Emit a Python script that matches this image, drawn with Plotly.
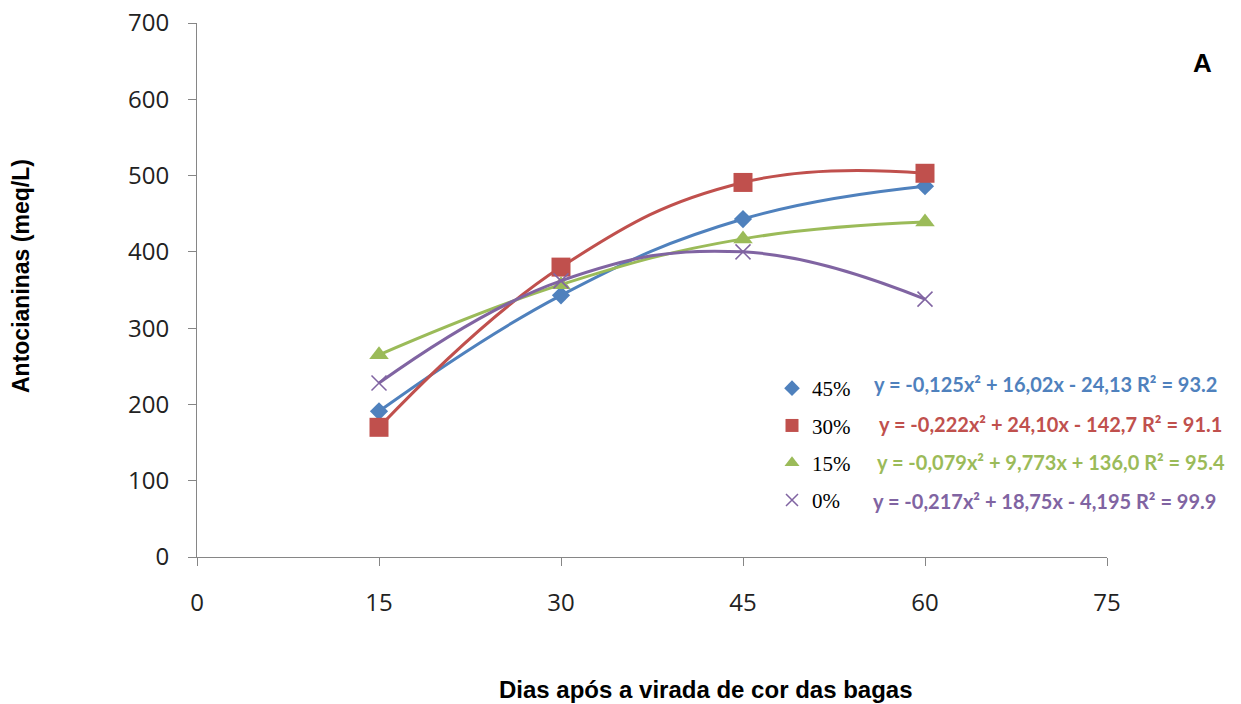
import plotly.graph_objects as go

# Days after veraison (x) and anthocyanin content (meq/L) per defoliation level
dias = [15, 30, 45, 60]
series_names = ["45%", "30%", "15%", "0%"]
antoc_45 = [191, 343, 443, 486]
antoc_30 = [170, 380, 491, 503]
antoc_15 = [265, 357, 417, 439]
antoc_0 = [228, 362, 400, 338]
equations = [
    "y = -0,125x² + 16,02x - 24,13 R² = 93.2",
    "y = -0,222x² + 24,10x - 142,7 R² = 91.1",
    "y = -0,079x² + 9,773x + 136,0 R² = 95.4",
    "y = -0,217x² + 18,75x - 4,195 R² = 99.9",
]
x_ticks = [0, 15, 30, 45, 60, 75]
y_ticks = [0, 100, 200, 300, 400, 500, 600, 700]

colors = ["#4F81BD", "#C0504D", "#9BBB59", "#8064A2"]
symbols = ["diamond", "square", "triangle-up", "x-thin"]
msizes = [14, 19, 17, 15]
legend_sizes = [12, 13, 13, 12]
values = [antoc_45, antoc_30, antoc_15, antoc_0]

fig = go.Figure()
for name, vals, col, sym, ms, ls in zip(series_names, values, colors, symbols, msizes, legend_sizes):
    marker = dict(symbol=sym, size=ms, color=col)
    if sym == "x-thin":
        marker["line"] = dict(color=col, width=1.5)
    # smoothed line through the measured points
    fig.add_trace(go.Scatter(
        x=dias, y=vals, mode="lines+markers", name=name,
        line=dict(color=col, width=3, shape="spline", smoothing=1.2),
        marker=marker, showlegend=False,
    ))
    # marker-only legend entry
    fig.add_trace(go.Scatter(
        x=[None], y=[None], mode="markers", name=name, legendgroup=name,
        marker=dict(marker, size=ls), showlegend=True,
    ))

L, R, T, B = 197, 134, 23, 147
W, H = 1241, 704
pw, ph = W - L - R, H - T - B

def px_x(p):
    return (p - L) / pw

def px_y(p):
    return (H - B - p) / ph

eq_x = [872, 877, 875, 871]
eq_y = [384, 424, 462, 501]
for txt, col, ex, ey in zip(equations, colors, eq_x, eq_y):
    fig.add_annotation(
        text=txt, x=px_x(ex), y=px_y(ey), xref="paper", yref="paper",
        xanchor="left", yanchor="middle", showarrow=False,
        font=dict(family="Lato", size=20, color=col, weight="bold"),
    )

fig.add_annotation(
    text="<b>A</b>", x=px_x(1202), y=px_y(63), xref="paper", yref="paper",
    xanchor="center", yanchor="middle", showarrow=False,
    font=dict(family="Liberation Sans", size=26, color="black"),
)
fig.add_annotation(
    text="<b>Dias após a virada de cor das bagas</b>", x=px_x(706), y=px_y(689),
    xref="paper", yref="paper", xanchor="center", yanchor="middle", showarrow=False,
    font=dict(family="Liberation Sans", size=24, color="black"),
)
fig.add_annotation(
    text="<b>Antocianinas (meq/L)</b>", x=px_x(21), y=px_y(276),
    xref="paper", yref="paper", xanchor="center", yanchor="middle", showarrow=False,
    textangle=-90, font=dict(family="Liberation Sans", size=23, color="black"),
)

axis_common = dict(
    showgrid=False, zeroline=False, showline=True, linecolor="#868686", linewidth=1,
    ticks="outside", ticklen=8, tickcolor="#868686", automargin=False,
    tickfont=dict(family="Open Sans", size=24, color="#222222"),
)
fig.update_xaxes(range=[0, 75], tickvals=x_ticks, ticklabelstandoff=16, **axis_common)
fig.update_yaxes(range=[0, 700], tickvals=y_ticks, ticklabelstandoff=14, **axis_common)

fig.update_layout(
    width=W, height=H,
    margin=dict(l=L, r=R, t=T, b=B, pad=0, autoexpand=False),
    plot_bgcolor="white", paper_bgcolor="white",
    legend=dict(
        x=px_x(772), y=px_y(368), xanchor="left", yanchor="top",
        font=dict(family="Liberation Serif", size=21, color="black"),
        itemwidth=30, tracegroupgap=7, traceorder="grouped",
        bgcolor="rgba(0,0,0,0)",
    ),
)

fig.write_html("out.html")
